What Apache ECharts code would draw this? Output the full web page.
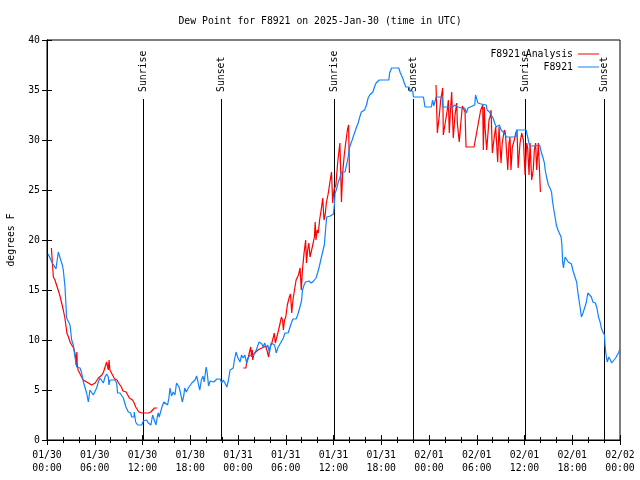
<!DOCTYPE html>
<html><head><meta charset="utf-8">
<script src="https://cdn.jsdelivr.net/npm/echarts@6/dist/echarts.min.js"></script>
<style>html,body{margin:0;padding:0;background:#fff}#c{width:640px;height:480px}</style>
</head><body><div id="c"></div>
<script>
// hours since 2025-01-30 00:00 UTC
const xTickLabels = ['01/30\n00:00','01/30\n06:00','01/30\n12:00','01/30\n18:00','01/31\n00:00','01/31\n06:00','01/31\n12:00','01/31\n18:00','02/01\n00:00','02/01\n06:00','02/01\n12:00','02/01\n18:00','02/02\n00:00'];
const sunTimes = [12.08, 21.9, 36.1, 45.97, 60.1, 70.0];
const sunLabels = ['Sunrise','Sunset','Sunrise','Sunset','Sunrise','Sunset'];

const blue = [[0.13,18.6],[0.38,18.2],[0.67,17.7],[0.88,17.9],[1.13,17.1],[1.42,18.8],[1.55,18.8],[1.72,18.0],[1.93,17.5],[2.05,17.0],[2.26,15.3],[2.47,12.2],[2.68,12.0],[2.89,11.5],[3.1,10.0],[3.31,9.5],[3.48,8.5],[3.73,7.3],[3.94,7.2],[4.15,7.2],[4.36,6.7],[4.57,5.8],[4.77,5.7],[4.98,4.7],[5.19,3.8],[5.4,5.0],[5.61,5.2],[5.82,4.5],[6.03,4.7],[6.24,5.2],[6.45,5.8],[6.66,6.2],[6.87,6.2],[7.08,5.7],[7.29,6.3],[7.5,6.6],[7.7,6.3],[7.79,5.5],[7.92,6.0],[8.12,6.0],[8.54,6.0],[8.75,5.7],[8.87,4.7],[9.17,4.7],[9.38,4.6],[9.59,4.2],[9.8,4.0],[9.92,3.3],[10.22,2.8],[10.51,2.7],[10.64,2.3],[10.93,2.3],[10.97,2.8],[11.14,1.8],[11.39,1.5],[11.9,1.5],[12.1,1.9],[12.52,2.0],[12.73,1.7],[12.94,1.8],[13.06,1.5],[13.27,2.5],[13.48,2.0],[13.69,1.5],[13.86,2.3],[13.98,2.7],[14.1,2.3],[14.27,2.1],[14.48,3.4],[14.69,3.8],[14.94,4.0],[15.15,3.5],[15.32,4.2],[15.45,5.2],[15.65,4.4],[15.86,4.8],[16.07,4.5],[16.28,5.7],[16.45,5.8],[16.6,5.3],[16.8,4.6],[17.0,3.8],[17.2,4.5],[17.3,5.2],[17.5,4.8],[17.75,5.2],[18.0,5.4],[18.2,5.7],[18.4,5.9],[18.6,6.0],[18.8,6.4],[18.95,5.9],[19.05,5.5],[19.2,5.0],[19.4,6.0],[19.6,6.4],[19.75,5.8],[20.0,7.3],[20.15,6.6],[20.3,5.4],[20.5,5.9],[20.75,5.7],[20.95,5.8],[21.15,5.7],[21.35,6.1],[21.75,6.1],[21.95,5.7],[22.15,6.0],[22.35,5.7],[22.6,5.3],[22.8,6.0],[23.0,7.0],[23.2,6.8],[23.4,7.2],[23.55,8.0],[23.75,8.8],[23.95,8.3],[24.1,8.5],[24.25,7.8],[24.45,8.5],[24.65,8.2],[24.85,8.5],[25.1,7.7],[25.3,8.2],[25.5,8.5],[25.7,8.3],[25.9,8.4],[26.1,8.7],[26.3,9.0],[26.5,9.1],[26.65,9.8],[26.8,9.8],[27.0,9.6],[27.15,9.3],[27.35,9.7],[27.55,9.2],[27.75,9.5],[27.95,8.7],[28.15,9.7],[28.4,9.7],[28.6,9.5],[28.8,8.7],[29.0,9.2],[29.2,9.5],[29.45,9.7],[29.7,10.2],[29.9,10.7],[30.3,10.7],[30.5,10.8],[30.7,11.7],[30.9,12.1],[31.3,12.1],[31.5,12.5],[31.75,12.7],[31.85,13.5],[32.0,14.0],[32.1,15.0],[32.3,15.5],[32.5,15.8],[32.9,15.9],[33.2,15.7],[33.5,15.9],[33.8,16.2],[34.0,16.7],[34.2,17.3],[34.4,18.0],[34.6,18.7],[34.75,19.2],[34.85,19.5],[34.95,20.5],[35.05,21.5],[35.15,22.3],[35.35,22.5],[35.6,22.4],[35.85,22.4],[36.0,22.6],[36.1,23.5],[36.2,24.7],[36.35,25.0],[36.6,25.8],[36.8,26.2],[37.0,26.8],[37.2,27.0],[37.45,26.8],[37.65,26.8],[37.85,28.3],[38.0,29.2],[38.2,29.7],[38.35,30.0],[38.55,30.5],[38.75,30.5],[38.9,31.3],[39.1,31.7],[39.3,32.3],[39.5,32.8],[39.7,33.0],[39.9,33.0],[40.15,33.5],[40.35,34.2],[40.55,34.5],[40.75,34.7],[40.95,34.8],[41.15,35.3],[41.35,35.7],[41.6,35.9],[41.75,36.0],[42.95,36.0],[43.05,36.7],[43.3,37.2],[44.2,37.2],[44.4,36.7],[44.7,36.2],[44.85,35.8],[45.1,35.3],[45.5,35.3],[45.65,34.9],[45.95,34.9],[46.05,34.3],[47.3,34.3],[47.5,33.3],[48.3,33.3],[48.45,34.0],[48.6,33.4],[48.9,34.3],[49.65,34.3],[49.75,33.3],[49.95,33.5],[50.2,33.3],[50.55,33.3],[50.85,33.2],[51.25,33.5],[51.65,33.3],[51.9,33.5],[52.1,33.2],[52.3,33.3],[52.5,33.2],[52.7,32.7],[52.9,33.2],[53.1,33.2],[53.75,33.5],[53.85,34.5],[54.0,34.5],[54.15,33.7],[54.55,33.6],[54.8,33.5],[55.2,33.5],[55.3,33.0],[55.6,32.8],[55.8,32.5],[56.05,32.2],[56.25,31.7],[56.45,31.3],[56.65,31.4],[56.85,31.5],[57.05,31.0],[57.25,31.2],[57.45,30.7],[57.7,30.3],[57.9,30.2],[58.95,30.3],[59.0,31.0],[59.15,31.2],[59.35,31.0],[60.2,31.0],[60.4,30.3],[60.65,29.4],[61.1,29.4],[61.9,29.5],[62.1,28.8],[62.3,28.3],[62.5,27.7],[62.6,27.0],[62.8,26.2],[63.0,25.5],[63.2,25.2],[63.4,24.8],[63.5,24.0],[63.65,23.2],[63.8,22.5],[64.0,21.5],[64.2,21.0],[64.45,20.8],[64.6,20.3],[64.7,19.5],[64.8,17.7],[64.9,17.2],[65.0,17.8],[65.1,18.3],[65.3,18.1],[65.5,17.8],[65.75,17.7],[65.9,17.6],[66.1,16.9],[66.35,16.8],[66.55,15.8],[66.7,14.8],[66.85,14.0],[67.0,13.2],[67.15,12.3],[67.35,12.7],[67.55,13.2],[67.75,13.7],[67.95,14.7],[68.2,14.6],[68.4,14.3],[68.6,13.8],[68.9,13.7],[69.1,13.2],[69.3,12.3],[69.5,11.8],[69.65,11.2],[69.85,10.8],[70.05,10.5],[70.12,9.5],[70.25,8.5],[70.4,7.8],[70.6,8.3],[70.8,8.0],[70.95,7.7],[71.2,7.8],[71.45,8.2],[71.6,8.0],[71.8,8.7],[72.0,9.1]];

const redSeg1 = [[0.55,19.2],[0.75,19.2],[0.8,16.3],[1.0,16.0],[1.2,15.5],[1.4,15.0],[1.6,14.5],[1.8,14.3],[2.05,13.0],[2.25,12.2],[2.5,10.7],[2.7,10.3],[2.9,9.8],[3.1,9.5],[3.35,9.2],[3.55,8.5],[3.65,7.5],[3.75,8.8],[3.8,7.6],[3.9,7.0],[4.1,6.7],[4.35,6.3],[4.55,6.0],[4.8,5.8],[5.2,5.7],[5.6,5.5],[5.8,5.5],[6.05,5.7],[6.25,5.8],[6.45,6.2],[6.65,6.2],[6.9,6.5],[7.1,6.8],[7.3,7.3],[7.5,7.8],[7.65,8.0],[7.7,7.0],[7.8,8.0],[7.9,7.0],[8.1,6.7],[8.3,6.5],[8.5,6.1],[8.8,6.0],[9.0,5.7],[9.35,5.3],[9.55,4.9],[9.95,4.8],[10.15,4.5],[10.35,4.2],[10.75,4.0],[10.95,3.7],[11.15,3.3],[11.55,2.8],[11.95,2.7],[12.75,2.7],[13.05,2.8],[13.3,3.0],[13.5,3.2],[13.85,3.2]];
const redSeg2 = [[24.67,7.2],[25.0,7.2],[25.1,7.9],[25.3,8.3],[25.5,9.0],[25.6,9.3],[25.7,8.3],[25.8,9.0],[25.85,8.0],[26.0,8.6],[26.35,8.9],[26.7,9.1],[27.0,9.2],[27.2,9.3],[27.5,9.4],[27.7,9.6],[27.85,8.3],[28.0,9.2],[28.25,9.7],[28.45,10.3],[28.55,10.7],[28.7,9.7],[28.85,10.2],[29.1,11.0],[29.3,11.7],[29.45,12.3],[29.6,12.0],[29.7,11.0],[29.85,12.0],[30.0,12.3],[30.2,13.5],[30.45,14.3],[30.6,14.6],[30.75,12.7],[30.9,14.0],[31.1,15.0],[31.3,16.0],[31.6,16.5],[31.8,17.2],[31.95,15.0],[32.1,17.0],[32.3,18.7],[32.5,20.0],[32.6,17.7],[32.75,19.0],[32.9,19.7],[33.05,18.3],[33.3,18.3],[33.45,19.7],[33.6,20.3],[33.7,21.8],[33.8,20.0],[33.95,21.0],[34.1,20.7],[34.25,22.0],[34.45,23.0],[34.65,24.2],[34.8,22.0],[34.95,22.5],[35.1,23.7],[35.35,24.7],[35.55,25.8],[35.75,26.8],[35.9,23.7],[36.05,25.0],[36.3,25.5],[36.5,27.5],[36.6,28.3],[36.8,29.7],[36.9,27.0],[37.0,23.8],[37.15,26.7],[37.35,28.5],[37.55,29.8],[37.75,31.0],[37.9,31.5],[38.0,26.7]];
const redSeg3 = [[48.88,35.5],[49.05,30.7],[49.3,32.5],[49.47,34.0],[49.72,35.2],[49.8,30.5],[50.0,30.5],[50.3,33.0],[50.43,34.0],[50.55,30.7],[50.7,33.0],[50.85,34.8],[51.05,30.2],[51.27,32.5],[51.48,33.7],[51.56,31.7],[51.8,29.8],[51.98,31.5],[52.19,33.4],[52.31,33.3],[52.53,32.8],[52.65,29.3],[53.66,29.3],[54.2,31.7],[54.5,33.0],[54.75,33.5],[54.83,29.0],[54.9,29.0],[54.95,33.3],[55.04,31.3],[55.25,29.0],[55.54,32.0],[55.67,32.3],[55.8,33.0],[55.96,28.7],[56.2,30.3],[56.38,31.3],[56.63,27.8],[56.8,31.3],[56.92,31.5],[57.05,27.7],[57.2,29.7],[57.47,31.0],[57.6,30.7],[57.9,27.0],[58.05,29.7],[58.18,30.3],[58.3,27.0],[58.47,29.3],[58.72,30.0],[58.9,30.7],[59.06,31.0],[59.2,27.2],[59.44,29.7],[59.65,30.7],[59.86,30.0],[60.07,26.5],[60.28,29.7],[60.4,29.2],[60.57,26.5],[60.7,29.7],[60.9,26.0],[61.1,27.0],[61.24,29.0],[61.4,29.7],[61.53,27.0],[61.74,29.7],[61.86,29.7],[62.0,24.8]];

const FONT = '"DejaVu Sans Mono", monospace';
const FS = 9.8;
const redData = redSeg1.concat([[18, '-']], redSeg2, [[43, '-']], redSeg3);

const chart = echarts.init(document.getElementById('c'), null, {renderer: 'canvas'});
const baseX = {
  type: 'value', min: 0, max: 72, interval: 6,
  axisLine: {show: true, lineStyle: {color: '#000', width: 1}},
  axisTick: {show: true, inside: true, length: 5, lineStyle: {color: '#000'}},
  minorTick: {show: true, splitNumber: 3, length: 3, lineStyle: {color: '#000'}},
  splitLine: {show: false}
};
chart.setOption({
  animation: false,
  backgroundColor: '#fff',
  title: {
    text: 'Dew Point for F8921 on 2025-Jan-30 (time in UTC)',
    left: 'center', top: 11, padding: [5, 5, 5, 31],
    textStyle: {fontFamily: FONT, fontSize: FS, fontWeight: 'normal', color: '#000'}
  },
  legend: [
    {data: ['F8921 Analysis'], right: 36, top: 44, orient: 'vertical', align: 'right', icon: 'rect', itemWidth: 21, itemHeight: 1, itemGap: 0,
     textStyle: {fontFamily: FONT, fontSize: FS, color: '#000'}},
    {data: ['F8921'], right: 36, top: 57, orient: 'vertical', align: 'right', icon: 'rect', itemWidth: 21, itemHeight: 1, itemGap: 0,
     textStyle: {fontFamily: FONT, fontSize: FS, color: '#000'}}
  ],
  grid: {left: 47, right: 20, top: 40, bottom: 40, outerBoundsMode: 'none', show: true, borderColor: '#000', borderWidth: 1, backgroundColor: 'transparent'},
  xAxis: [
    Object.assign({}, baseX, {
      position: 'bottom',
      axisLabel: {show: true, showMinLabel: true, showMaxLabel: true, hideOverlap: false, margin: 9, lineHeight: 13,
        fontFamily: FONT, fontSize: FS, color: '#000',
        formatter: function (v) { const i = Math.round(v / 6); return xTickLabels[i] || ''; }}
    }),
    Object.assign({}, baseX, {position: 'top', axisLabel: {show: false}})
  ],
  yAxis: [
    {type: 'value', min: 0, max: 40, interval: 5, position: 'left',
     name: 'degrees F', nameLocation: 'middle', nameGap: 31, nameRotate: 90,
     nameTextStyle: {fontFamily: FONT, fontSize: FS, color: '#000'},
     axisLine: {show: true, lineStyle: {color: '#000'}},
     axisTick: {show: true, inside: true, length: 5, lineStyle: {color: '#000'}},
     axisLabel: {margin: 7, fontFamily: FONT, fontSize: FS, color: '#000', showMinLabel: true, showMaxLabel: true},
     splitLine: {show: false}},
    {type: 'value', min: 0, max: 40, interval: 5, position: 'right',
     axisLine: {show: true, lineStyle: {color: '#000'}},
     axisTick: {show: true, inside: true, length: 5, lineStyle: {color: '#000'}},
     axisLabel: {show: false}, splitLine: {show: false}}
  ],
  series: [
    {
      type: 'custom', name: 'sun', z: 1, silent: true,
      data: sunTimes.map(function (t) { return [t, 0]; }),
      encode: {x: 0, y: 1},
      renderItem: function (params, api) {
        const x = Math.round(api.coord([api.value(0), 0])[0]) + 0.5;
        const y0 = api.coord([0, 0])[1];
        const y1 = api.coord([0, 34.1])[1];
        const yt = api.coord([0, 34.8])[1];
        return {type: 'group', children: [
          {type: 'line', shape: {x1: x, y1: y0, x2: x, y2: y1}, style: {stroke: '#000', lineWidth: 1}},
          {type: 'text', x: x, y: yt, rotation: Math.PI / 2,
           style: {text: sunLabels[params.dataIndex], font: FS + 'px ' + FONT, fill: '#000', align: 'left', verticalAlign: 'middle'}}
        ]};
      }
    },
    {
      type: 'line', name: 'F8921 Analysis', z: 2, data: redData, showSymbol: false, symbol: 'none',
      connectNulls: false, lineStyle: {color: '#ff0000', width: 1.2}, itemStyle: {color: '#ff0000'}
    },
    {
      type: 'line', name: 'F8921', z: 3, data: blue, showSymbol: false, symbol: 'none',
      lineStyle: {color: '#0f82ff', width: 1.2}, itemStyle: {color: '#0f82ff'}
    }
  ]
});
</script></body></html>
